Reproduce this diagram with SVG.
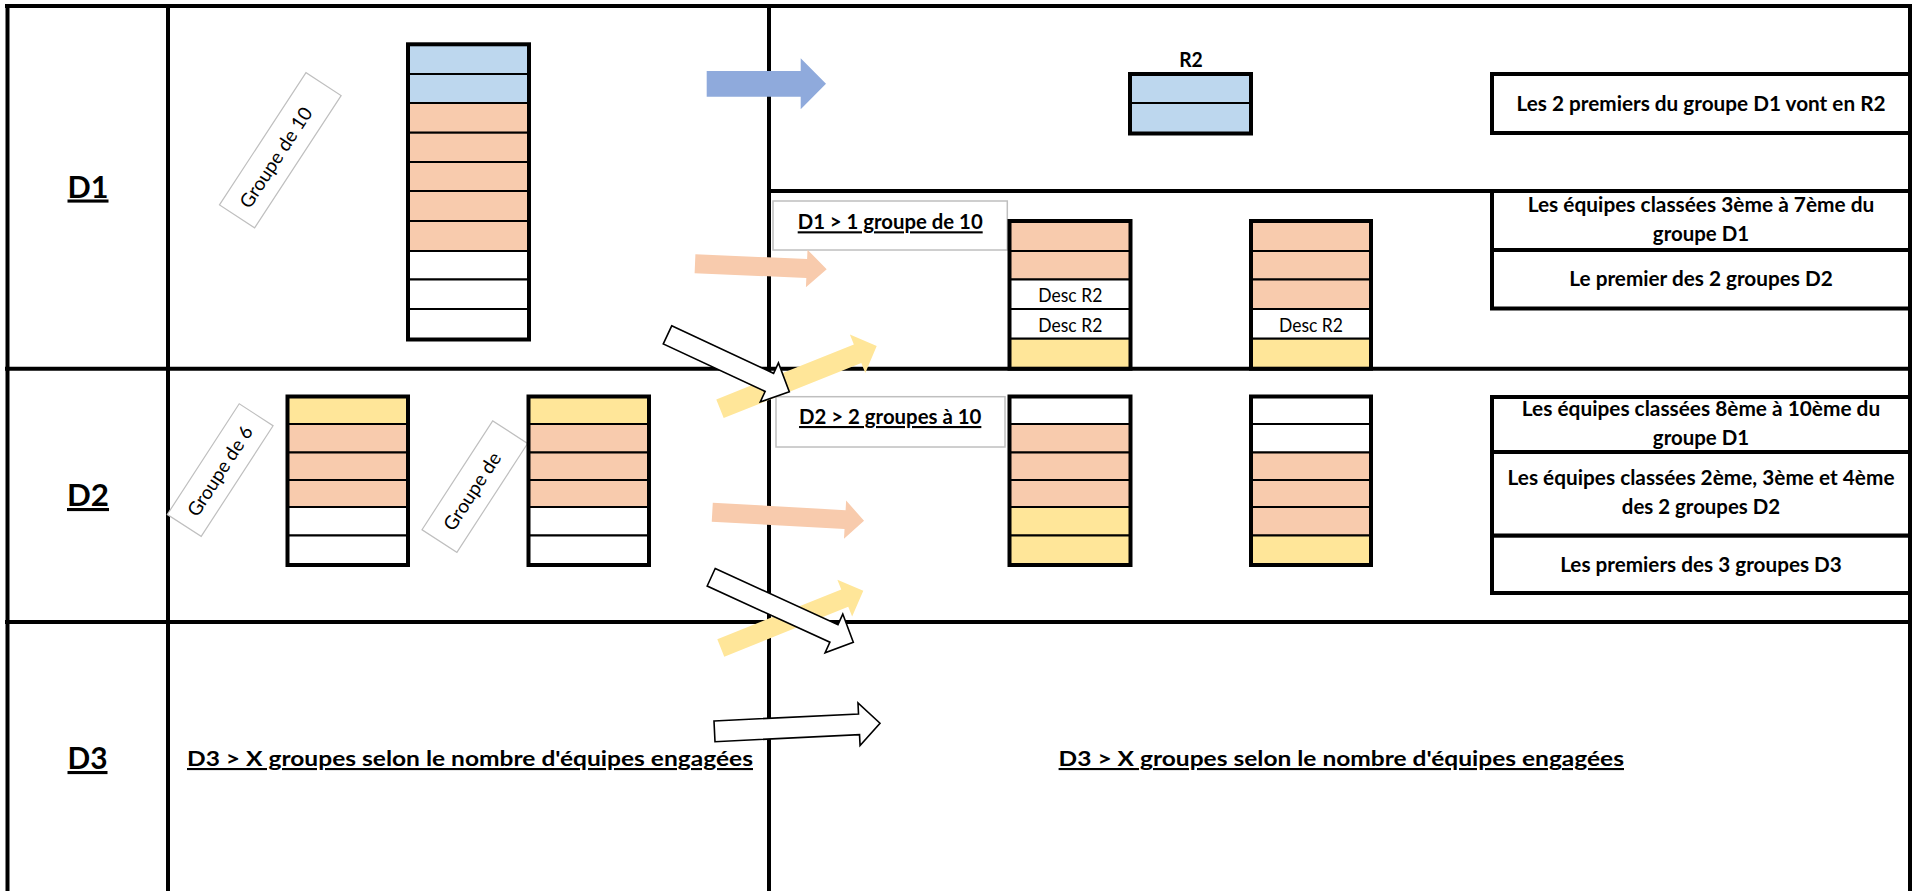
<svg xmlns="http://www.w3.org/2000/svg" width="1914" height="891" viewBox="0 0 1914 891">
<style>
.grid line{stroke:#000;stroke-width:4}
.box{fill:#fff;stroke:#000;stroke-width:4}
.lbl{fill:#fff;stroke:#BFBFBF;stroke-width:1.5}
.rot{fill:#fff;stroke:#BFBFBF;stroke-width:1.2}
.row{stroke:#000;stroke-width:2}
.frame{fill:none;stroke:#000;stroke-width:4}
.bl{fill:#BDD7EE}.or{fill:#F8CBAD}.ye{fill:#FFE699}.wh{fill:#fff}
.b{font-family:Lato,"Liberation Sans",sans-serif;font-weight:bold;font-size:21px;fill:#000}
.r{font-family:Lato,"Liberation Sans",sans-serif;font-size:18.5px;fill:#000}
.big{font-family:Lato,"Liberation Sans",sans-serif;font-weight:bold;font-size:31px;fill:#000}
.u{text-decoration:underline}
.aw{fill:#fff;stroke:#000;stroke-width:1.6;stroke-linejoin:miter}
.ao{fill:#F8CBAD}.ay{fill:#FFE699}.ab{fill:#8FAADC}
</style>
<rect width="1914" height="891" fill="#fff"/>
<g class="grid" id="grid">
<line x1="5" y1="6" x2="1912" y2="6"/>
<line x1="7.5" y1="4" x2="7.5" y2="891"/>
<line x1="168" y1="4" x2="168" y2="891"/>
<line x1="769" y1="4" x2="769" y2="891"/>
<line x1="1910" y1="4" x2="1910" y2="891"/>
<line x1="769" y1="191" x2="1912" y2="191"/>
<line x1="5" y1="368.7" x2="1912" y2="368.7"/>
<line x1="5" y1="622" x2="1912" y2="622"/>
</g>
<g id="label-d1"><text class="big u" x="88" y="197.5" text-anchor="middle" textLength="41" lengthAdjust="spacingAndGlyphs">D1</text></g>
<g id="label-d2"><text class="big u" x="88" y="506" text-anchor="middle" textLength="42" lengthAdjust="spacingAndGlyphs">D2</text></g>
<g id="label-d3"><text class="big u" x="87.5" y="769" text-anchor="middle" textLength="40" lengthAdjust="spacingAndGlyphs">D3</text></g>

<g id="tag-groupe10" transform="translate(280.3,150.2) rotate(-56.8)">
<rect class="rot" x="-79" y="-21" width="158" height="42"/>
<text class="r" x="-66.5" y="7" textLength="116" lengthAdjust="spacingAndGlyphs" style="font-size:19px">Groupe de 10</text>
</g>
<g id="tag-groupe6" transform="translate(220.2,470.1) rotate(-57)">
<rect class="rot" x="-66" y="-20.2" width="132" height="40.4"/>
<text class="r" x="-52.7" y="7" textLength="103.5" lengthAdjust="spacingAndGlyphs" style="font-size:19px">Groupe de 6</text>
</g>
<g id="tag-groupe" transform="translate(474.8,486.6) rotate(-57)">
<rect class="rot" x="-64.9" y="-20.8" width="129.8" height="41.6"/>
<text class="r" x="-49.9" y="7" textLength="89" lengthAdjust="spacingAndGlyphs" style="font-size:19px">Groupe de</text>
</g>

<g id="stack-d1">
<rect class="row bl" x="408" y="44.3" width="121" height="29.7"/>
<rect class="row bl" x="408" y="74" width="121" height="29"/>
<rect class="row or" x="408" y="103" width="121" height="29.7"/>
<rect class="row or" x="408" y="132.7" width="121" height="29.3"/>
<rect class="row or" x="408" y="162" width="121" height="29"/>
<rect class="row or" x="408" y="191" width="121" height="30"/>
<rect class="row or" x="408" y="221" width="121" height="30"/>
<rect class="row wh" x="408" y="251" width="121" height="28.5"/>
<rect class="row wh" x="408" y="279.5" width="121" height="29.5"/>
<rect class="row wh" x="408" y="309" width="121" height="30.5"/>
<rect class="frame" x="408" y="44.3" width="121" height="295.2"/>
</g>

<g id="stack-d2-a">
<rect class="row ye" x="287.5" y="396.5" width="120.5" height="27.5"/>
<rect class="row or" x="287.5" y="424" width="120.5" height="28.5"/>
<rect class="row or" x="287.5" y="452.5" width="120.5" height="27.5"/>
<rect class="row or" x="287.5" y="480" width="120.5" height="27"/>
<rect class="row wh" x="287.5" y="507" width="120.5" height="28.5"/>
<rect class="row wh" x="287.5" y="535.5" width="120.5" height="29.5"/>
<rect class="frame" x="287.5" y="396.5" width="120.5" height="168.5"/>
</g>
<g id="stack-d2-b">
<rect class="row ye" x="528.5" y="396.5" width="120.5" height="27.5"/>
<rect class="row or" x="528.5" y="424" width="120.5" height="28.5"/>
<rect class="row or" x="528.5" y="452.5" width="120.5" height="27.5"/>
<rect class="row or" x="528.5" y="480" width="120.5" height="27"/>
<rect class="row wh" x="528.5" y="507" width="120.5" height="28.5"/>
<rect class="row wh" x="528.5" y="535.5" width="120.5" height="29.5"/>
<rect class="frame" x="528.5" y="396.5" width="120.5" height="168.5"/>
</g>

<g id="r2">
<text class="b" x="1191" y="66.5" text-anchor="middle" textLength="23.6" lengthAdjust="spacingAndGlyphs">R2</text>
<rect class="row bl" x="1130" y="74" width="121" height="29"/>
<rect class="row bl" x="1130" y="103" width="121" height="30.5"/>
<rect class="frame" x="1130" y="74" width="121" height="59.5"/>
</g>

<g id="box-d1-label">
<rect class="lbl" x="773" y="201" width="234.3" height="49"/>
<text class="b u" x="890.2" y="229.3" text-anchor="middle" textLength="185" lengthAdjust="spacingAndGlyphs">D1 &gt; 1 groupe de 10</text>
</g>
<g id="box-d2-label">
<rect class="lbl" x="776" y="396.7" width="229" height="50.3"/>
<text class="b u" x="890.2" y="424" text-anchor="middle" textLength="182.3" lengthAdjust="spacingAndGlyphs">D2 &gt; 2 groupes à 10</text>
</g>

<g id="stack-r-d1-a">
<rect class="row or" x="1009.5" y="221" width="121" height="30"/>
<rect class="row or" x="1009.5" y="251" width="121" height="28.5"/>
<rect class="row wh" x="1009.5" y="279.5" width="121" height="29.5"/>
<rect class="row wh" x="1009.5" y="309" width="121" height="29.7"/>
<rect class="row ye" x="1009.5" y="338.7" width="121" height="30"/>
<rect class="frame" x="1009.5" y="221" width="121" height="147.7"/>
<text class="r" x="1070.3" y="302.3" text-anchor="middle" textLength="64" lengthAdjust="spacingAndGlyphs">Desc R2</text>
<text class="r" x="1070.3" y="332.3" text-anchor="middle" textLength="64" lengthAdjust="spacingAndGlyphs">Desc R2</text>
</g>
<g id="stack-r-d1-b">
<rect class="row or" x="1251" y="221" width="120" height="30"/>
<rect class="row or" x="1251" y="251" width="120" height="28.5"/>
<rect class="row or" x="1251" y="279.5" width="120" height="29.5"/>
<rect class="row wh" x="1251" y="309" width="120" height="29.7"/>
<rect class="row ye" x="1251" y="338.7" width="120" height="30"/>
<rect class="frame" x="1251" y="221" width="120" height="147.7"/>
<text class="r" x="1311" y="332.3" text-anchor="middle" textLength="64" lengthAdjust="spacingAndGlyphs">Desc R2</text>
</g>
<g id="stack-r-d2-a">
<rect class="row wh" x="1009.5" y="396.5" width="121" height="27.5"/>
<rect class="row or" x="1009.5" y="424" width="121" height="28.5"/>
<rect class="row or" x="1009.5" y="452.5" width="121" height="27.5"/>
<rect class="row or" x="1009.5" y="480" width="121" height="27"/>
<rect class="row ye" x="1009.5" y="507" width="121" height="28.5"/>
<rect class="row ye" x="1009.5" y="535.5" width="121" height="29.5"/>
<rect class="frame" x="1009.5" y="396.5" width="121" height="168.5"/>
</g>
<g id="stack-r-d2-b">
<rect class="row wh" x="1251" y="396.5" width="120" height="27.5"/>
<rect class="row wh" x="1251" y="424" width="120" height="28.5"/>
<rect class="row or" x="1251" y="452.5" width="120" height="27.5"/>
<rect class="row or" x="1251" y="480" width="120" height="27"/>
<rect class="row or" x="1251" y="507" width="120" height="28.5"/>
<rect class="row ye" x="1251" y="535.5" width="120" height="29.5"/>
<rect class="frame" x="1251" y="396.5" width="120" height="168.5"/>
</g>

<g id="note-r2">
<rect class="box" x="1492" y="74" width="418" height="59"/>
<text class="b" x="1701" y="110.5" text-anchor="middle" textLength="369" lengthAdjust="spacingAndGlyphs">Les 2 premiers du groupe D1 vont en R2</text>
</g>
<g id="note-3-7">
<rect class="box" x="1492" y="191" width="418" height="59"/>
<text class="b" x="1701" y="211.7" text-anchor="middle" textLength="346.6" lengthAdjust="spacingAndGlyphs">Les équipes classées 3ème à 7ème du</text>
<text class="b" x="1701" y="240.5" text-anchor="middle" textLength="96.3" lengthAdjust="spacingAndGlyphs">groupe D1</text>
</g>
<g id="note-premier-d2">
<rect class="box" x="1492" y="250" width="418" height="58.5"/>
<text class="b" x="1701" y="285.5" text-anchor="middle" textLength="263.4" lengthAdjust="spacingAndGlyphs">Le premier des 2 groupes D2</text>
</g>
<g id="note-8-10">
<rect class="box" x="1492" y="397" width="418" height="55"/>
<text class="b" x="1701" y="416" text-anchor="middle" textLength="358.4" lengthAdjust="spacingAndGlyphs">Les équipes classées 8ème à 10ème du</text>
<text class="b" x="1701" y="444.5" text-anchor="middle" textLength="96.3" lengthAdjust="spacingAndGlyphs">groupe D1</text>
</g>
<g id="note-2-4">
<rect class="box" x="1492" y="452" width="418" height="83.7"/>
<text class="b" x="1701" y="485" text-anchor="middle" textLength="387" lengthAdjust="spacingAndGlyphs">Les équipes classées 2ème, 3ème et 4ème</text>
<text class="b" x="1701" y="514.3" text-anchor="middle" textLength="158.3" lengthAdjust="spacingAndGlyphs">des 2 groupes D2</text>
</g>
<g id="note-premiers-d3">
<rect class="box" x="1492" y="535.7" width="418" height="57.3"/>
<text class="b" x="1701" y="572" text-anchor="middle" textLength="281.7" lengthAdjust="spacingAndGlyphs">Les premiers des 3 groupes D3</text>
</g>

<g id="d3-left"><text class="b u" x="187" y="766" textLength="566" lengthAdjust="spacingAndGlyphs">D3 &gt; X groupes selon le nombre d'équipes engagées</text></g>
<g id="d3-right"><text class="b u" x="1058.6" y="766" textLength="565.4" lengthAdjust="spacingAndGlyphs">D3 &gt; X groupes selon le nombre d'équipes engagées</text></g>

<g id="connectors">
<polygon class="ab" points="706.7,71 800.7,71 800.7,58.3 826,83.8 800.7,109.3 800.7,96.7 706.7,96.7"/>
<polygon class="ao" transform="translate(760.85,266.55) rotate(2.4)" points="-65.9,-9.5 45.9,-9.5 45.9,-18.8 65.9,0 45.9,18.8 45.9,9.5 -65.9,9.5"/>
<polygon class="ay" transform="translate(798.35,377.4) rotate(-21.8)" points="-84.4,-10 63.8,-10 63.8,-20.75 84.4,0 63.8,20.75 63.8,10 -84.4,10"/>
<polygon class="aw" transform="translate(728.4,363.3) rotate(25)" points="-67.2,-10 45.2,-10 45.2,-21.5 67.2,0 45.2,21.5 45.2,10 -67.2,10"/>
<polygon class="ao" transform="translate(788.15,516.45) rotate(3.2)" points="-76,-9.5 57,-9.5 57,-19.15 76,0 57,19.15 57,9.5 -76,9.5"/>
<polygon class="ay" transform="translate(792.05,619.35) rotate(-21.9)" points="-76.8,-9.35 56.8,-9.35 56.8,-19.8 76.8,0 56.8,19.8 56.8,9.35 -76.8,9.35"/>
<polygon class="aw" transform="translate(782.25,609.75) rotate(24.6)" points="-78.15,-9.65 56.85,-9.65 56.85,-21.25 78.15,0 56.85,21.25 56.85,9.65 -78.15,9.65"/>
<polygon class="aw" transform="translate(797.25,727.3) rotate(-2.8)" points="-82.85,-10.35 61.85,-10.35 61.85,-21.35 82.85,0 61.85,21.35 61.85,10.35 -82.85,10.35"/>
</g>
</svg>
